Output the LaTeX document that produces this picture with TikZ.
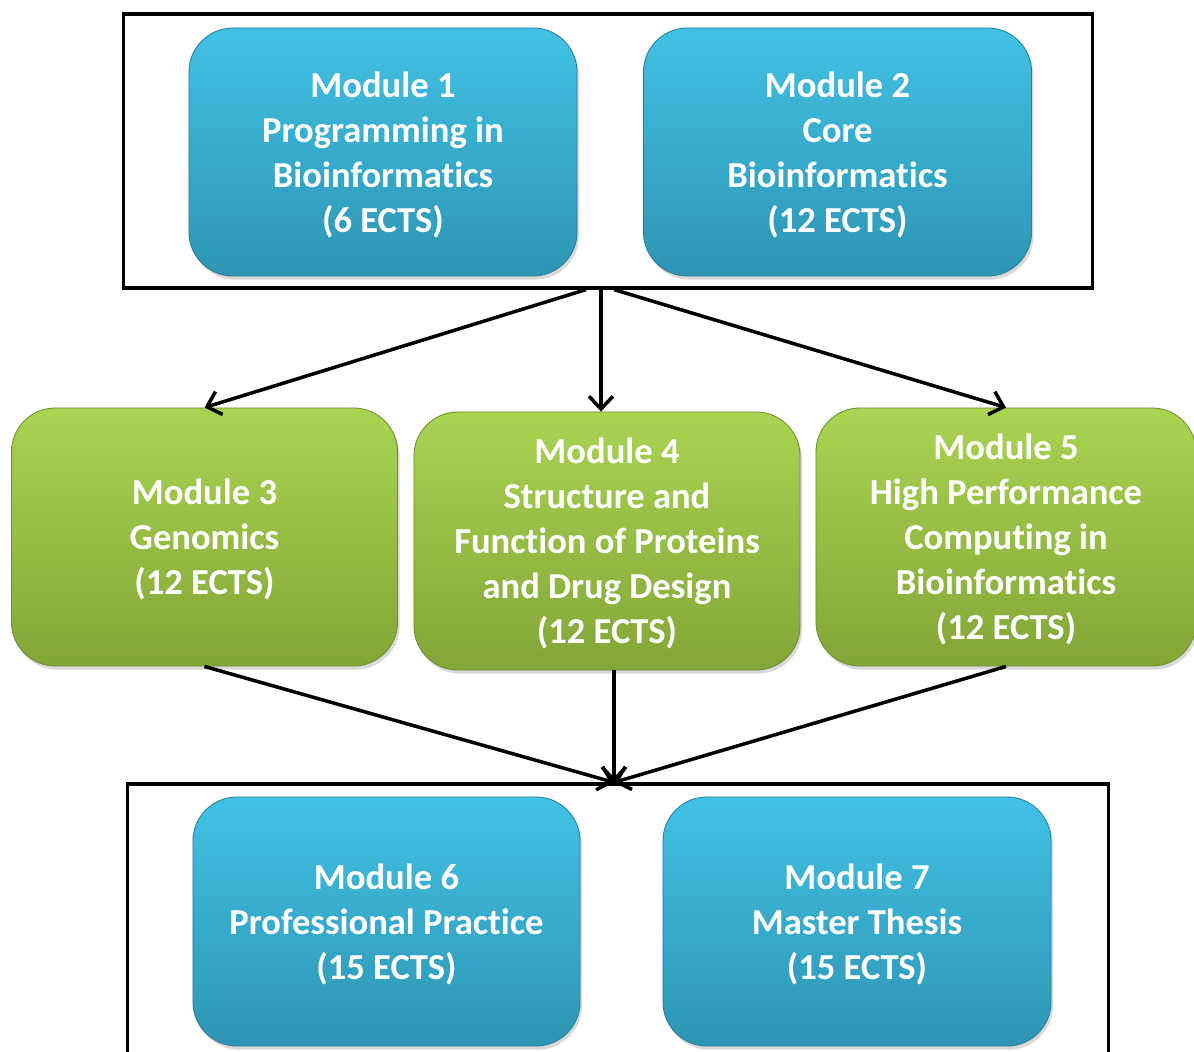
\documentclass[tikz,border=0pt]{standalone}
\usepackage{fontspec}
\setmainfont{Carlito}[Ligatures=NoCommon]
\usetikzlibrary{arrows.meta,shadows}

\definecolor{coreTop}{HTML}{41C1E5}
\definecolor{coreBot}{HTML}{2E95B3}
\definecolor{optTop}{HTML}{A9D452}
\definecolor{optBot}{HTML}{84A537}

\begin{document}
\begin{tikzpicture}[x=0.025cm,y=-0.025cm,line width=2.5pt,
	>={Straight Barb[length=9pt,width=17pt]},
	module/.style={rectangle,rounded corners=1.1cm,line width=0.6pt,
		text=white,align=center,font=\fontsize{26}{32}\selectfont\bfseries,
		text depth=0pt,
		drop shadow={opacity=0.3,shadow xshift=0.05cm,shadow yshift=-0.09cm}},
	blue module/.style={module,draw=coreBot!85!black,top color=coreTop,bottom color=coreBot,
		minimum width=9.7cm,minimum height=6.2cm},
	green module/.style={module,draw=optBot!85!black,top color=optTop,bottom color=optBot,
		minimum width=9.65cm,minimum height=6.45cm},
	frame/.style={draw,line width=2.2pt,inner sep=0pt}]
	
	\clip (0,0) rectangle (1194,1051);
	
	% first semester
	\node[frame,minimum width=24.2cm,minimum height=6.85cm] (core) at (608,151) {};
	\node[blue module] (m1) at (383,152) {Module 1\\Programming in\\Bioinformatics\\(6 ECTS)};
	\node[blue module] (m2) at (837.5,152) {Module 2\\Core\\Bioinformatics\\(12 ECTS)};
	
	% second semester
	\node[green module] (m3) at (204.5,537) {Module 3\\Genomics\\(12 ECTS)};
	\node[green module] (m4) at (607,541) {Module 4\\Structure and\\Function of Proteins\\and Drug Design\\(12 ECTS)};
	\node[green module,minimum width=9.5cm] (m5) at (1006,537) {Module 5\\High Performance\\Computing in\\Bioinformatics\\(12 ECTS)};
	
	% third semester
	\node[frame,minimum width=24.5cm,minimum height=7.15cm] (final) at (618,927) {};
	\node[blue module,minimum width=9.675cm,minimum height=6.225cm] (m6) at (386.5,921.5) {Module 6\\Professional Practice\\(15 ECTS)};
	\node[blue module,minimum width=9.7cm,minimum height=6.225cm] (m7) at (857,921.5) {Module 7\\Master Thesis\\(15 ECTS)};
	
	\coordinate (s1) at ([xshift=-0.55cm]core.south);
	\coordinate (s2) at ([xshift=-0.175cm]core.south);
	\coordinate (s3) at ([xshift=0.15cm]core.south);
	\coordinate (merge) at ([xshift=-0.1cm]final.north);
	
	\draw[->] (s1) -- (m3.north);
	\draw[->] (s2) -- (s2 |- m4.north);
	\draw[->] (s3) -- (m5.north);
	\draw[->] (m3.south) -- (merge);
	\draw[->] (m4.south -| merge) -- (merge);
	\draw[->] (m5.south) -- (merge);
	
\end{tikzpicture}
\end{document}
